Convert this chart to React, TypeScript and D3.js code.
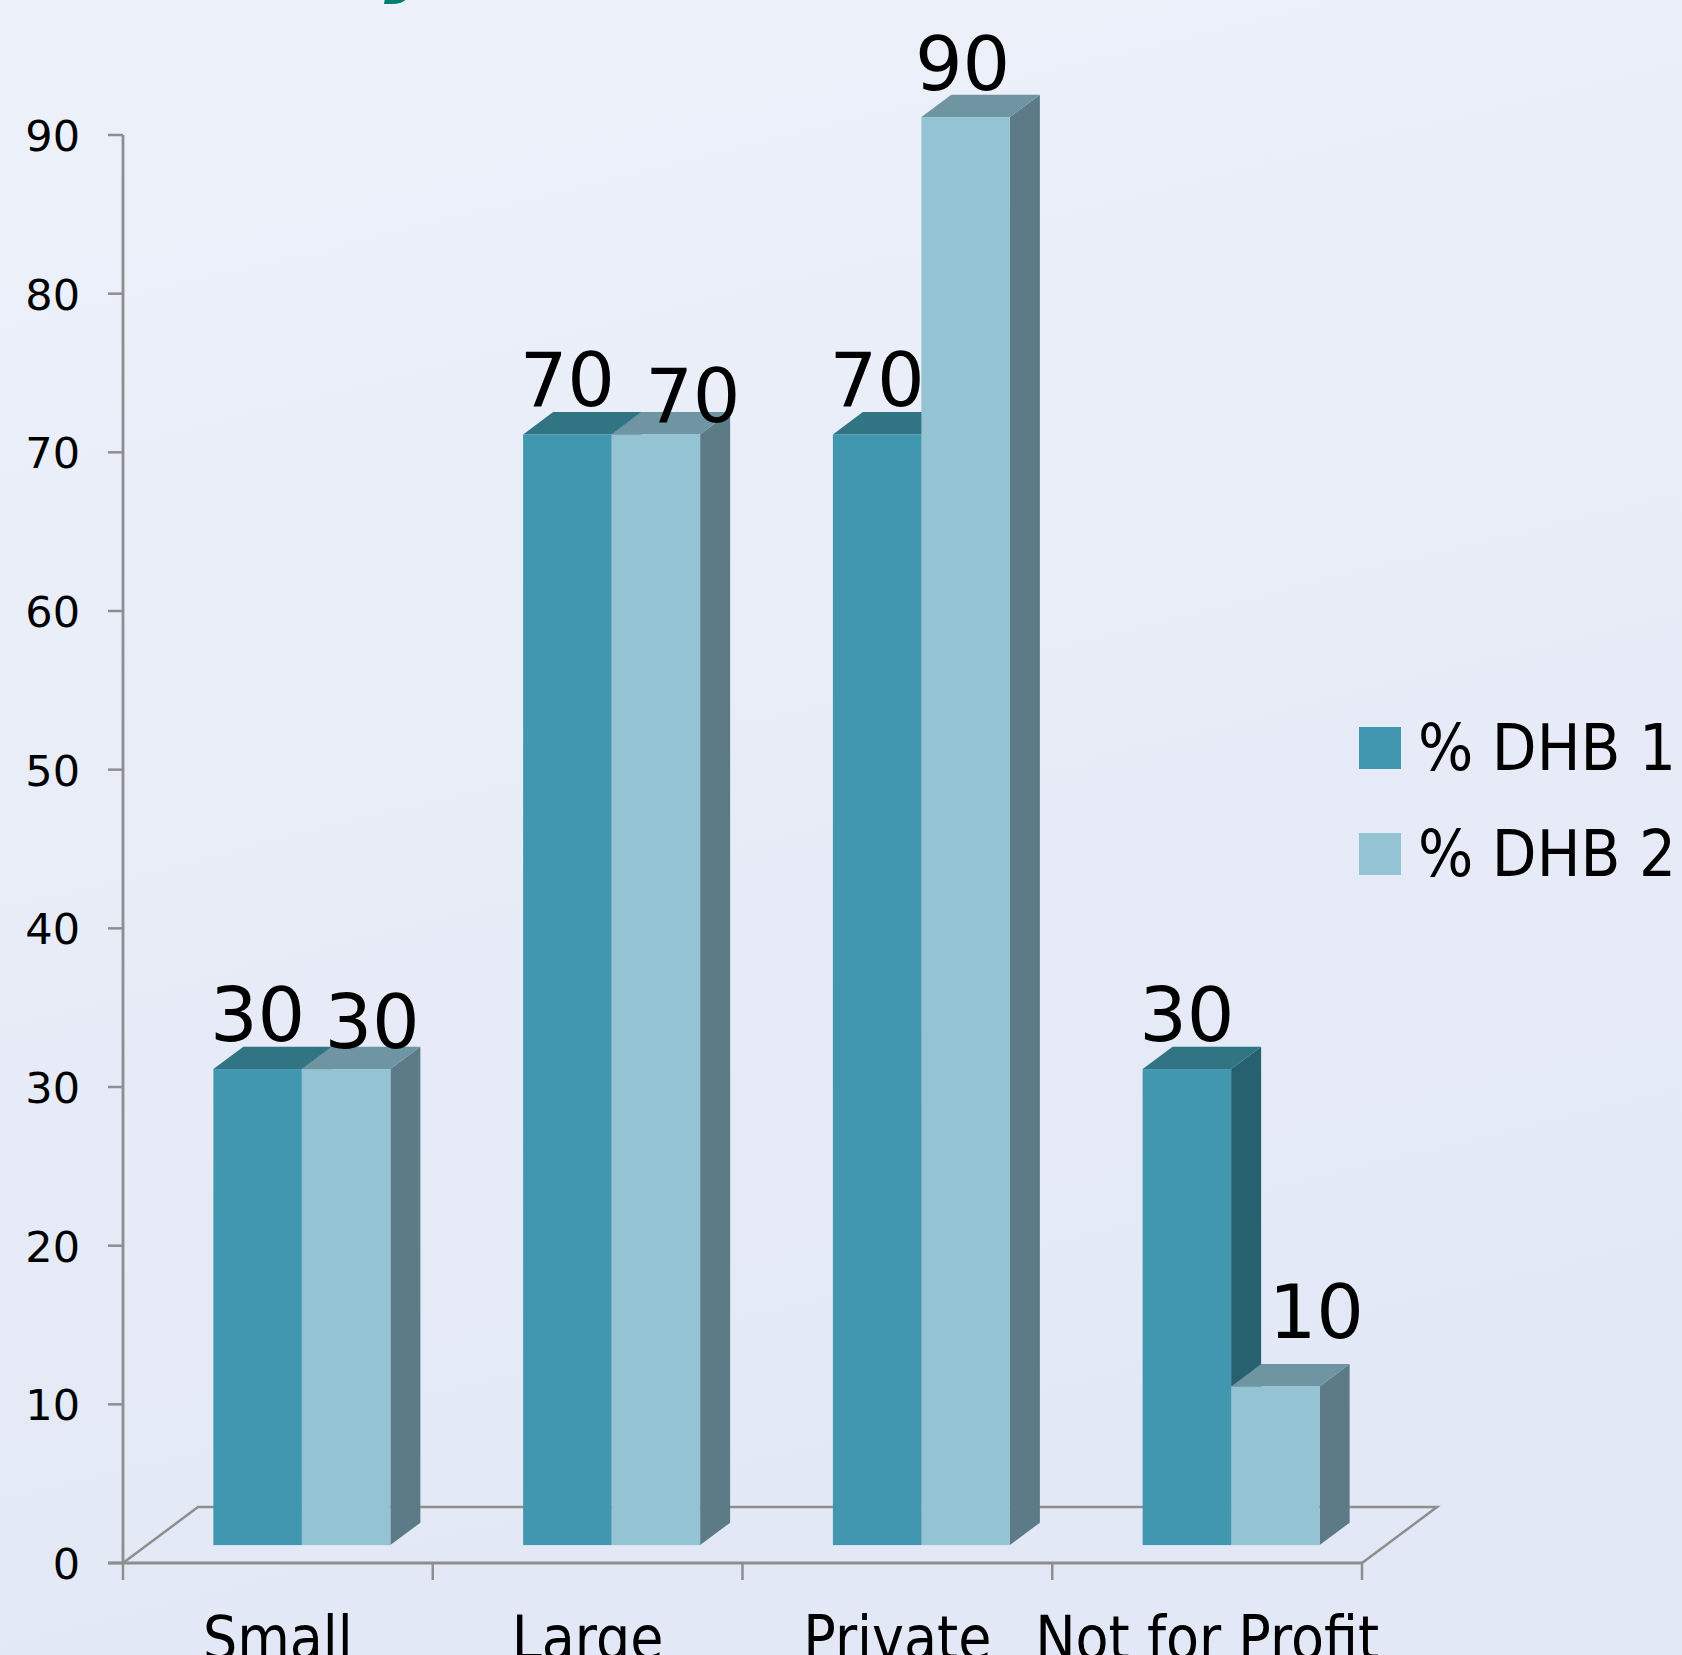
import React from 'react';
import * as d3 from 'd3';

// ---- data ----
const categories = ['Small', 'Large', 'Private', 'Not for Profit'];
const seriesNames = ['% DHB 1', '% DHB 2'];
const dhb1Values = [30, 70, 70, 30];
const dhb2Values = [30, 70, 90, 10];
const yTickValues = [0, 10, 20, 30, 40, 50, 60, 70, 80, 90];

// ---- layout ----
const W = 1682;
const H = 1655;
const plotLeft = 123;
const plotRight = 1362;
const plotTop = 135;
const plotBottom = 1563;
const floorDx = 75;
const floorDy = -56;
const barFrontFrac = 0.32;
const barBackFrac = 0.72;
const groupWidth = 177;
// label nudges (dx from bar front centre, dy from bar front top)
const nudge1 = [[0, -28], [0, -28], [0, -28], [0, -28]];
const nudge2 = [[26, -21], [37, -12], [-3, -27], [41, -48]];

const colors = [
  { front: '#4297B0', top: '#317584', side: '#276170' },
  { front: '#94C3D4', top: '#6F95A2', side: '#5C7B86' },
];
const axisColor = '#8E8E8E';
const FONT = '"DejaVu Sans", Verdana, sans-serif';

export default function App() {
  const x = d3.scaleBand<string>().domain(categories).range([plotLeft, plotRight]).paddingInner(0).paddingOuter(0);
  const y = d3.scaleLinear().domain([0, 90]).range([plotBottom, plotTop]);
  const sub = d3.scaleBand<string>().domain(seriesNames).range([0, groupWidth]);

  const fdx = floorDx * barFrontFrac;
  const fdy = floorDy * barFrontFrac;
  const bdx = floorDx * (barBackFrac - barFrontFrac);
  const bdy = floorDy * (barBackFrac - barFrontFrac);

  const series = [dhb1Values, dhb2Values];
  const nudges = [nudge1, nudge2];

  const bars: any[] = [];
  const labels: any[] = [];
  categories.forEach((cat, ci) => {
    const cx = (x(cat) as number) + x.bandwidth() / 2 + fdx;
    const gx0 = cx - groupWidth / 2;
    seriesNames.forEach((s, si) => {
      const v = series[si][ci];
      const x0 = gx0 + (sub(s) as number);
      const x1 = x0 + sub.bandwidth();
      const yb = y(0) + fdy;
      const yt = y(v) + fdy;
      const c = colors[si];
      const topPts = [[x0, yt], [x1, yt], [x1 + bdx, yt + bdy], [x0 + bdx, yt + bdy]];
      const sidePts = [[x1, yt], [x1 + bdx, yt + bdy], [x1 + bdx, yb + bdy], [x1, yb]];
      bars.push(
        <g key={`b-${ci}-${si}`}>
          <polygon points={sidePts.map((p) => p.join(',')).join(' ')} fill={c.side} />
          <polygon points={topPts.map((p) => p.join(',')).join(' ')} fill={c.top} />
          <rect x={x0} y={yt} width={x1 - x0} height={yb - yt} fill={c.front} />
        </g>
      );
      const [ndx, ndy] = nudges[si][ci];
      labels.push(
        <text
          key={`l-${ci}-${si}`}
          x={(x0 + x1) / 2 + ndx}
          y={yt + ndy}
          textAnchor="middle"
          fontSize={75}
          fontFamily={FONT}
          fill="#000"
        >
          {v}
        </text>
      );
    });
  });

  const floorPts = [
    [plotLeft, plotBottom],
    [plotLeft + floorDx, plotBottom + floorDy],
    [plotRight + floorDx, plotBottom + floorDy],
    [plotRight, plotBottom],
  ];

  const boundaries = categories.map((c) => x(c) as number).concat([plotRight]);

  return (
    <svg
      width={W}
      height={H}
      viewBox={`0 0 ${W} ${H}`}
      style={{ position: 'absolute', left: 0, top: 0, display: 'block' }}
    >
      <defs>
        <linearGradient id="bg" x1="0" y1="0" x2="0.25" y2="1">
          <stop offset="0" stopColor="#EDF1FA" />
          <stop offset="1" stopColor="#E2E8F5" />
        </linearGradient>
      </defs>
      <rect x={0} y={0} width={W} height={H} fill="url(#bg)" />

      {/* cut-off title descender */}
      <text x={384} y={-14} fontSize={84} fontWeight="bold" fontStyle="italic" fontFamily={FONT} fill="#00806E">
        y
      </text>

      {/* floor */}
      <polyline
        points={floorPts.map((p) => p.join(',')).join(' ')}
        fill="none"
        stroke={axisColor}
        strokeWidth={2.5}
      />

      {/* y axis */}
      <line x1={plotLeft} y1={plotTop} x2={plotLeft} y2={plotBottom} stroke={axisColor} strokeWidth={2.8} />
      {yTickValues.map((t) => (
        <g key={`yt-${t}`}>
          <line x1={plotLeft - 15} x2={plotLeft} y1={y(t)} y2={y(t)} stroke={axisColor} strokeWidth={2.5} />
          <text x={80} y={y(t) + 16} textAnchor="end" fontSize={43} fontFamily={FONT} fill="#000">
            {t}
          </text>
        </g>
      ))}

      {/* x axis */}
      <line x1={plotLeft - 15} x2={plotRight} y1={plotBottom} y2={plotBottom} stroke={axisColor} strokeWidth={3} />
      {boundaries.map((bx, i) => (
        <line key={`xt-${i}`} x1={bx} x2={bx} y1={plotBottom} y2={plotBottom + 17} stroke={axisColor} strokeWidth={2.5} />
      ))}

      {bars}
      {labels}

      {/* category labels */}
      {categories.map((c) => {
        const cx = (x(c) as number) + x.bandwidth() / 2;
        return (
          <text
            key={`cat-${c}`}
            transform={`translate(${cx},1659) scale(0.9,1)`}
            textAnchor="middle"
            fontSize={60}
            fontFamily={FONT}
            fill="#000"
          >
            {c}
          </text>
        );
      })}

      {/* legend */}
      {seriesNames.map((s, i) => {
        const ly = 727 + i * 106;
        return (
          <g key={`lg-${s}`}>
            <rect x={1359} y={ly} width={42} height={42} fill={colors[i].front} />
            <text
              transform={`translate(1418,${ly + 43}) scale(0.91,1)`}
              fontSize={64}
              fontFamily={FONT}
              fill="#000"
            >
              {s}
            </text>
          </g>
        );
      })}
    </svg>
  );
}
